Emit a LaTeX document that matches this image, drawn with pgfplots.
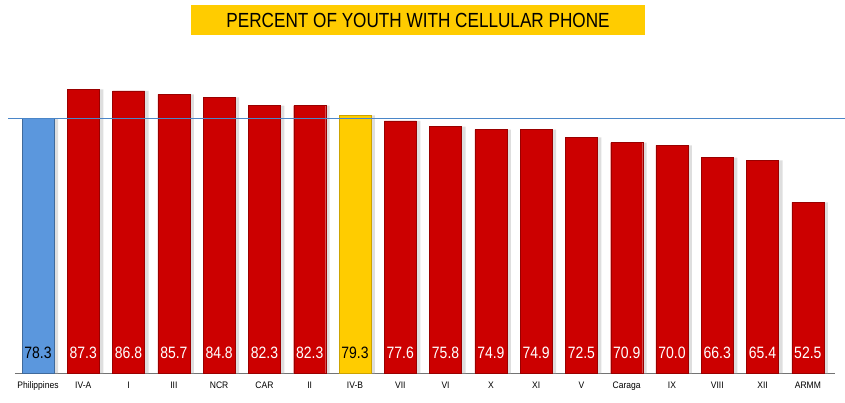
\documentclass[border=0pt]{standalone}
\usepackage{pgfplots}
\pgfplotsset{compat=1.18}
\usepackage{fontspec}
\setmainfont{Liberation Sans}
\definecolor{barred}{HTML}{CC0000}
\definecolor{barblue}{HTML}{5B97DD}
\definecolor{baryellow}{HTML}{FFCC00}
\definecolor{refline}{HTML}{4A86C8}
\begin{document}
\begin{tikzpicture}
\begin{axis}[
  name=ax,
  scale only axis,
  width=820bp, height=325bp,
  xmin=-0.508, xmax=17.6,
  ymin=0, ymax=100,
  clip=false,
  axis y line=none,
  axis x line*=bottom,
  x axis line style={draw=black!55, -},
  xtick={0,...,17},
  xticklabels={Philippines,IV-A,I,III,NCR,CAR,II,IV-B,VII,VI,X,XI,V,Caraga,IX,VIII,XII,ARMM},
  xtick style={draw=none},
  x tick label style={font=\fontsize{9.5}{11}\selectfont, xscale=0.9, yshift=-1bp},
  ybar, bar width=32bp, bar shift=0pt,
  /pgf/number format/assume math mode=true,
]
% shadows
\addplot[fill=black!13, draw=none, bar shift=4bp] coordinates {
(0,78.3) (1,87.3) (2,86.8) (3,85.7) (4,84.8) (5,82.3) (6,82.3) (7,79.3)
(8,77.6) (9,75.8) (10,74.9) (11,74.9) (12,72.5) (13,70.9) (14,70.0) (15,66.3) (16,65.4) (17,52.5)};
\addplot[fill=barblue, draw=barblue!70!black] coordinates {(0,78.3)};
\addplot[fill=barred, draw=barred!75!black] coordinates {
(1,87.3) (2,86.8) (3,85.7) (4,84.8) (5,82.3) (6,82.3)
(8,77.6) (9,75.8) (10,74.9) (11,74.9) (12,72.5) (13,70.9) (14,70.0) (15,66.3) (16,65.4) (17,52.5)};
\addplot[fill=baryellow, draw=baryellow!80!black] coordinates {(7,79.3)};
% reference line
\addplot[sharp plot, draw=refline, line width=0.8pt] coordinates {(-0.66,78.3) (17.81,78.3)};
% value labels
\addplot[only marks, mark=none, point meta=explicit,
  nodes near coords, nodes near coords align={center},
  every node near coord/.append style={text=white, font=\fontsize{16.5}{18}\selectfont, xscale=0.85, anchor=center},
  /pgf/number format/.cd, fixed, fixed zerofill, precision=1, assume math mode=true]
  coordinates {
(1,6.15) [87.3] (2,6.15) [86.8] (3,6.15) [85.7] (4,6.15) [84.8] (5,6.15) [82.3] (6,6.15) [82.3]
(8,6.15) [77.6] (9,6.15) [75.8] (10,6.15) [74.9] (11,6.15) [74.9] (12,6.15) [72.5] (13,6.15) [70.9] (14,6.15) [70.0] (15,6.15) [66.3] (16,6.15) [65.4] (17,6.15) [52.5]};
\addplot[only marks, mark=none, point meta=explicit,
  nodes near coords, nodes near coords align={center},
  every node near coord/.append style={text=black, font=\fontsize{16.5}{18}\selectfont, xscale=0.85, anchor=center},
  /pgf/number format/.cd, fixed, fixed zerofill, precision=1, assume math mode=true]
  coordinates {(0,6.15) [78.3] (7,6.15) [79.3]};
\node[fill=baryellow, minimum width=454bp, minimum height=30bp, inner sep=0pt]
  at (axis description cs:0.4915,1.086) {};
\node[font=\fontsize{20.5}{22}\selectfont, xscale=0.84, inner sep=0pt]
  at (axis description cs:0.4915,1.086) {PERCENT OF YOUTH WITH CELLULAR PHONE};
\end{axis}
\pgfresetboundingbox
\path[use as bounding box] ([shift={(-15bp,-30bp)}]ax.south west) rectangle ([shift={(10bp,48bp)}]ax.north east);
\end{tikzpicture}
\end{document}
